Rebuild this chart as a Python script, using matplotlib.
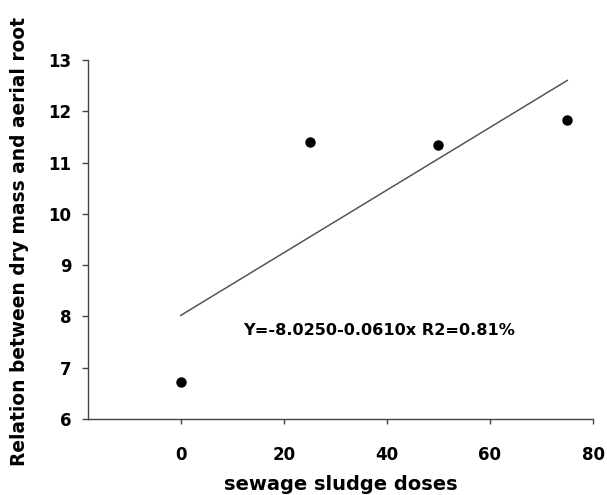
import numpy as np
import matplotlib
matplotlib.use('Agg')
import matplotlib.pyplot as plt

# sludge doses and measured ratio
doses = [0, 25, 50, 75]
ratio = [6.72, 11.40, 11.35, 11.82]

# fitted line ends as drawn in the figure
fitX = [0, 75]
fitY = [8.02, 12.60]

eqText = 'Y=-8.0250-0.0610x R2=0.81%'
xTicks = [0, 20, 40, 60, 80]
yTicks = [6, 7, 8, 9, 10, 11, 12, 13]

plt.rcParams['font.family'] = ['DejaVu Sans']
plt.rcParams['font.weight'] = 'bold'

fig = plt.figure(figsize=(6.07, 4.95), dpi=100)
ax = fig.add_axes([0.145, 0.1535, 0.832, 0.7255])

ax.plot(fitX, fitY, color='#555555', linewidth=1.1)
ax.plot(doses, ratio, 'o', color='black', markersize=6.5)

ax.text(12, 7.72, eqText, fontsize=11.6, fontweight='bold', va='center', ha='left')

ax.set_xlim(-18, 80)
ax.set_ylim(6, 13)
ax.set_xticks(xTicks)
ax.set_yticks(yTicks)

for s in ['top', 'right']:
    ax.spines[s].set_visible(False)
for s in ['left', 'bottom']:
    ax.spines[s].set_color('#444444')
    ax.spines[s].set_linewidth(1.0)

ax.tick_params(axis='y', direction='out', length=4, width=1.0, color='#444444',
               pad=8, labelsize=12)
ax.tick_params(axis='x', direction='out', length=3.5, width=1.0, color='#444444',
               pad=16, labelsize=12)
for lab in ax.get_xticklabels() + ax.get_yticklabels():
    lab.set_fontweight('bold')

ax.set_xlabel('sewage sludge doses', fontsize=14, fontweight='bold')
ax.set_ylabel('Relation between dry mass and aerial root', fontsize=13.4, fontweight='bold')
ax.xaxis.label.set_va('center')
ax.yaxis.label.set_va('center')
ax.xaxis.set_label_coords(0.5, -0.183)
ax.yaxis.set_label_coords(-0.136, 0.494)

plt.savefig('out.png', dpi=100)
